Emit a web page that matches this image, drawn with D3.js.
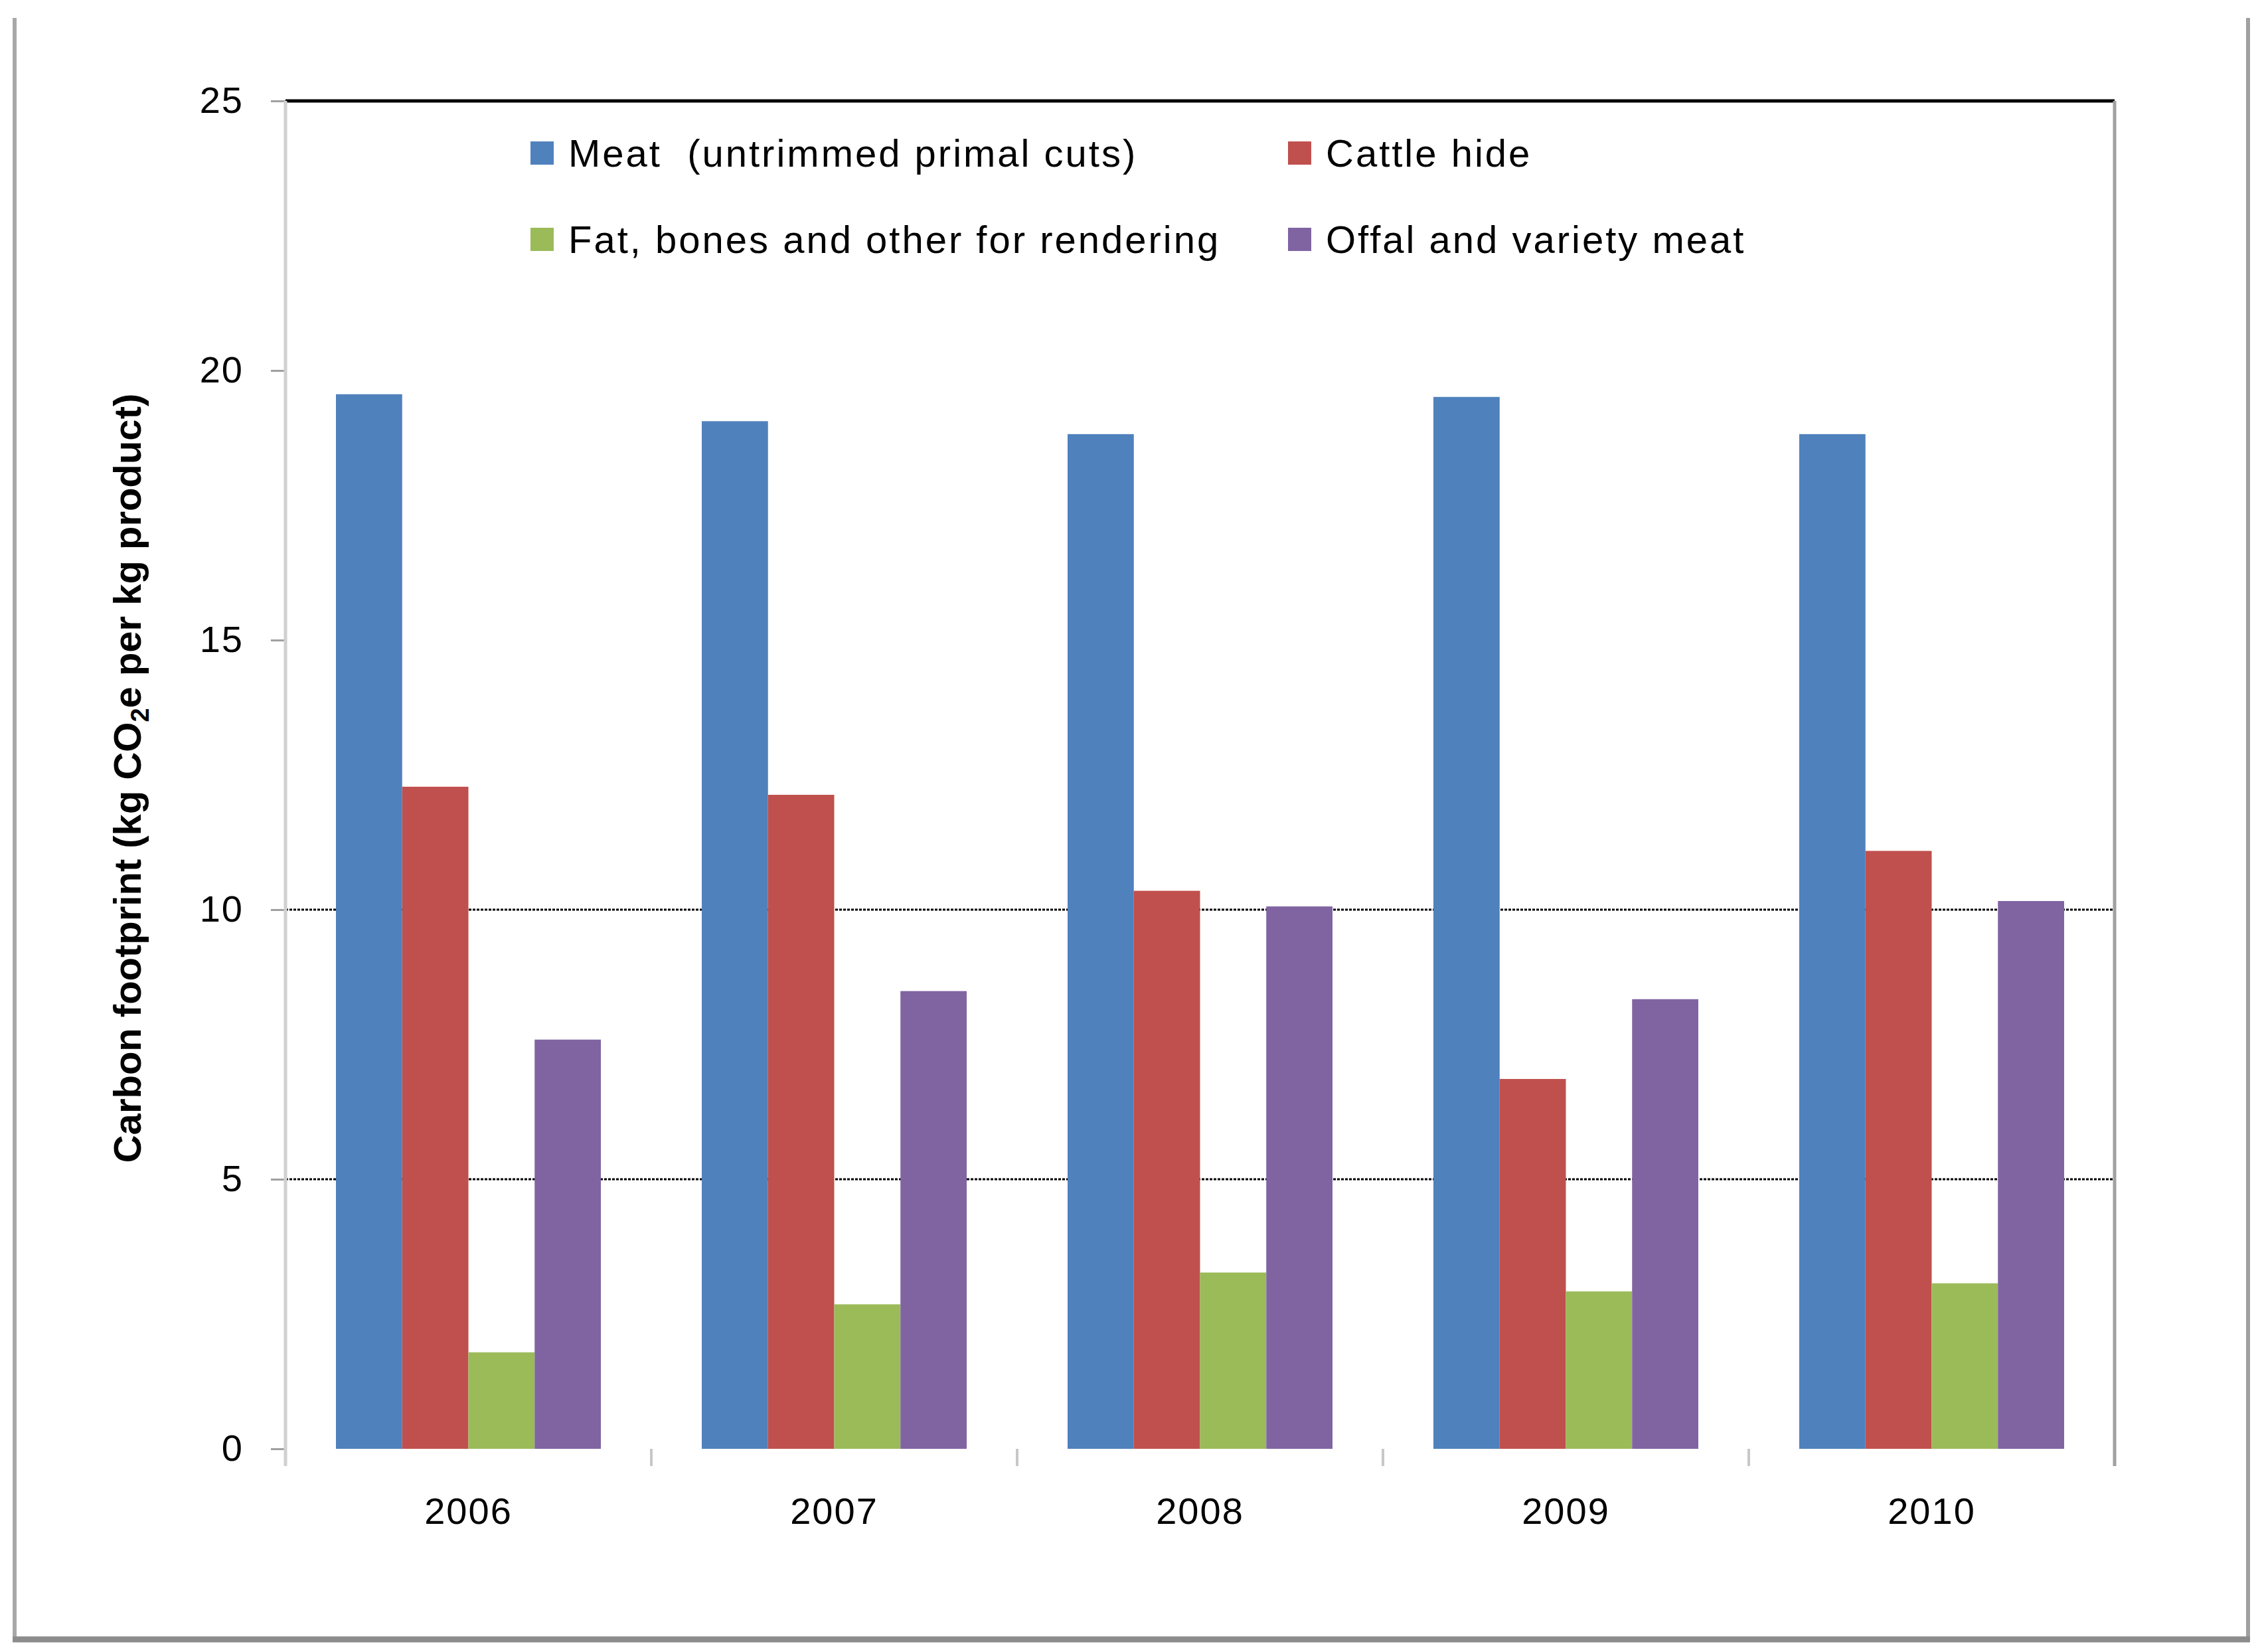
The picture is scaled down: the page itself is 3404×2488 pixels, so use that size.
<!DOCTYPE html>
<meta charset="utf-8">
<script src="https://d3js.org/d3.v7.min.js"></script>
<style>
  body { margin: 0; background: #fff; }
  text { font-family: "Liberation Sans", Arial, sans-serif; fill: #000; }
</style>
<svg id="chart" width="3404" height="2488"></svg>
<script>

    // data
    const years = ["2006", "2007", "2008", "2009", "2010"];
    const series = ["Meat  (untrimmed primal cuts)", "Cattle hide", "Fat, bones and other for rendering", "Offal and variety meat"];
    const meat = [19.56, 19.06, 18.82, 19.51, 18.82];
    const hide = [12.28, 12.13, 10.35, 6.86, 11.09];
    const fat = [1.79, 2.68, 3.27, 2.92, 3.07];
    const offal = [7.59, 8.49, 10.06, 8.34, 10.16];
    const yTicks = [0, 5, 10, 15, 20, 25];
    const gridTicks = [5, 10];
    const colors = ["#4F81BD", "#C0504D", "#9BBB59", "#8064A2"];

    const values = [meat, hide, fat, offal];
    const table = years.map((y, i) => ({ year: y, vals: series.map((s, k) => ({ key: s, k: k, v: values[k][i] })) }));

    const svg = d3.select("#chart"),
        width = +svg.attr("width"),
        height = +svg.attr("height");

    // plot box
    const plotLeft = 430, plotRight = 3185, plotTop = 152, plotBottom = 2182;

    // outer frame (left, right, bottom)
    svg.append("line").attr("x1", 22).attr("x2", 22).attr("y1", 27).attr("y2", 2472)
        .attr("stroke", "#a8a8a8").attr("stroke-width", 6);
    svg.append("line").attr("x1", 3386).attr("x2", 3386).attr("y1", 27).attr("y2", 2472)
        .attr("stroke", "#a0a0a0").attr("stroke-width", 6);
    svg.append("line").attr("x1", 19).attr("x2", 3389).attr("y1", 2469).attr("y2", 2469)
        .attr("stroke", "#8c8c8c").attr("stroke-width", 9);

    const x0 = d3.scaleBand().domain(years).range([plotLeft, plotRight]).padding(0);
    const gap = 76;
    const x1 = d3.scaleBand().domain(series).range([gap, x0.bandwidth() - gap]).padding(0);
    const y = d3.scaleLinear().domain([0, 25]).range([plotBottom, plotTop]);

    // gridlines (only 5 and 10 show in the picture)
    svg.append("g")
        .selectAll("line")
        .data(gridTicks)
        .join("line")
        .attr("x1", plotLeft).attr("x2", plotRight)
        .attr("y1", d => y(d)).attr("y2", d => y(d))
        .attr("stroke", "#000")
        .attr("stroke-width", 3)
        .attr("stroke-dasharray", "4,2");

    // top border of the plot
    svg.append("line").attr("x1", plotLeft).attr("x2", plotRight).attr("y1", plotTop).attr("y2", plotTop)
        .attr("stroke", "#000").attr("stroke-width", 5);

    // right border of the plot
    svg.append("line").attr("x1", plotRight).attr("x2", plotRight).attr("y1", plotTop).attr("y2", plotBottom + 26)
        .attr("stroke", "#a0a0a0").attr("stroke-width", 5);

    // bars
    svg.append("g")
        .selectAll("g")
        .data(table)
        .join("g")
        .attr("transform", d => `translate(${x0(d.year)},0)`)
        .selectAll("rect")
        .data(d => d.vals)
        .join("rect")
        .attr("x", d => x1(d.key))
        .attr("width", x1.bandwidth())
        .attr("y", d => y(d.v))
        .attr("height", d => y(0) - y(d.v))
        .attr("fill", d => colors[d.k]);

    // y axis
    const yAxis = svg.append("g")
        .attr("transform", `translate(${plotLeft},0)`)
        .call(d3.axisLeft(y).tickValues(yTicks).tickSize(22).tickPadding(41).tickFormat(d3.format("d")));
    yAxis.select(".domain").remove();
    yAxis.selectAll(".tick line").attr("stroke", "#a0a0a0").attr("stroke-width", 3);
    yAxis.selectAll(".tick text")
        .style("font-size", "56px")
        .style("letter-spacing", "2px");
    yAxis.append("line").attr("x1", 0).attr("x2", 0).attr("y1", plotTop).attr("y2", plotBottom + 26)
        .attr("stroke", "#d0d0d0").attr("stroke-width", 5);

    // x axis labels
    const xAxis = svg.append("g")
        .attr("transform", `translate(0,${plotBottom})`)
        .call(d3.axisBottom(x0).tickSize(0).tickPadding(73));
    xAxis.select(".domain").remove();
    xAxis.selectAll(".tick text")
        .style("font-size", "56px")
        .style("letter-spacing", "2px");

    // boundary ticks between years
    const bounds = years.map(d => x0(d)).concat([x0(years[years.length - 1]) + x0.bandwidth()]);
    svg.append("g")
        .selectAll("line")
        .data(bounds.slice(1, -1))
        .join("line")
        .attr("x1", d => d).attr("x2", d => d)
        .attr("y1", plotBottom).attr("y2", plotBottom + 26)
        .attr("stroke", "#c8c8c8").attr("stroke-width", 4);

    // y axis title
    const title = svg.append("text")
        .attr("transform", "translate(191,1172) rotate(-90)")
        .attr("text-anchor", "middle")
        .attr("dy", "0.36em")
        .style("font-size", "58px")
        .style("font-weight", "bold");
    title.append("tspan").text("Carbon footprint (kg CO");
    title.append("tspan").text("2").style("font-size", "38px").attr("dy", "12");
    title.append("tspan").text("e per kg product)").attr("dy", "-12");

    // legend
    const legendPos = [[799, 230], [1940, 230], [799, 360], [1940, 360]];
    const legend = svg.append("g")
        .selectAll("g")
        .data(series)
        .join("g")
        .attr("transform", (d, i) => `translate(${legendPos[i][0]},${legendPos[i][1]})`);
    legend.append("rect")
        .attr("x", 0).attr("y", -17)
        .attr("width", 35).attr("height", 35)
        .attr("fill", (d, i) => colors[i]);
    legend.append("text")
        .attr("x", 57)
        .attr("dy", "0.36em")
        .style("font-size", "58px")
        .style("letter-spacing", "3px")
        .style("white-space", "pre")
        .text(d => d);

</script>
